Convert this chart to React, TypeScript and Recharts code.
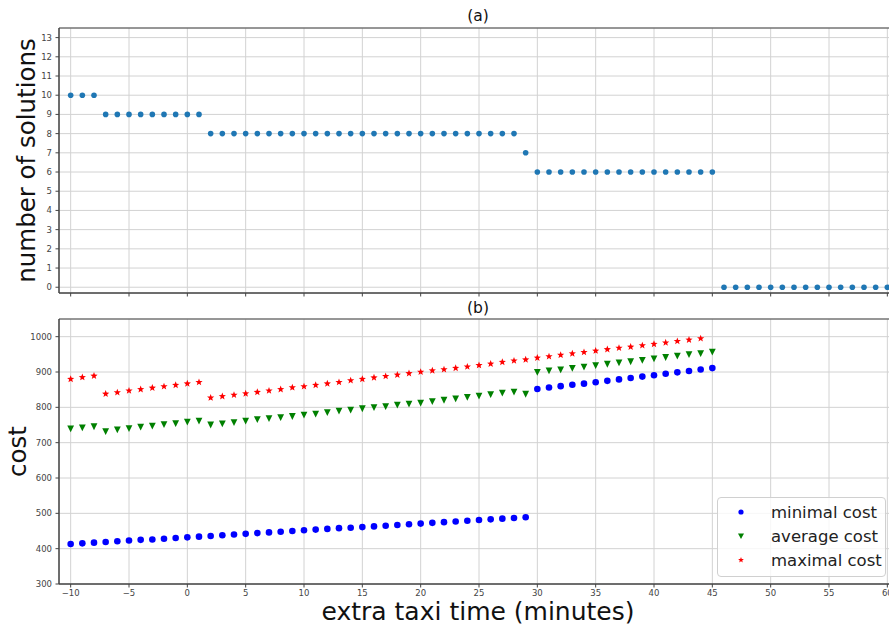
import React from 'react';
import {
  ScatterChart,
  Scatter,
  XAxis,
  YAxis,
  CartesianGrid,
  ReferenceArea,
} from 'recharts';

const FONT = '"DejaVu Sans", sans-serif';

// extra taxi time in minutes, shared by both panels
const minutes = [
  -10, -9, -8, -7, -6, -5, -4, -3, -2, -1, 0, 1, 2, 3, 4, 5, 6, 7, 8, 9,
  10, 11, 12, 13, 14, 15, 16, 17, 18, 19, 20, 21, 22, 23, 24, 25, 26, 27, 28, 29,
  30, 31, 32, 33, 34, 35, 36, 37, 38, 39, 40, 41, 42, 43, 44, 45, 46, 47, 48, 49,
  50, 51, 52, 53, 54, 55, 56, 57, 58, 59, 60,
];

// panel (a)
const solutionCounts = [
  10, 10, 10, 9, 9, 9, 9, 9, 9, 9, 9, 9, 8, 8, 8, 8, 8, 8, 8, 8,
  8, 8, 8, 8, 8, 8, 8, 8, 8, 8, 8, 8, 8, 8, 8, 8, 8, 8, 8, 7,
  6, 6, 6, 6, 6, 6, 6, 6, 6, 6, 6, 6, 6, 6, 6, 6, 0, 0, 0, 0,
  0, 0, 0, 0, 0, 0, 0, 0, 0, 0, 0,
];

// panel (b), minutes -10 .. 45
const minimalCost = [
  413, 415, 417, 419, 421, 423, 425, 426, 428, 430,
  432, 434, 436, 438, 440, 442, 444, 446, 448, 450,
  452, 454, 456, 458, 459, 461, 463, 465, 467, 469,
  471, 473, 475, 477, 479, 481, 483, 485, 487, 489,
  852, 856, 860, 864, 867, 871, 875, 879, 883, 887, 891, 895, 899, 903, 907, 911,
];

const averageCost = [
  739, 742, 745, 731, 736, 740, 744, 747, 751, 754,
  758, 761, 750, 753, 757, 761, 765, 768, 771, 774,
  778, 781, 785, 789, 792, 796, 799, 802, 806, 809,
  812, 816, 820, 824, 828, 832, 836, 840, 843, 837,
  899, 903, 906, 910, 914, 918, 922, 926, 929, 933, 937, 941, 945, 949, 952, 956,
];

// minutes -10 .. 44
const maximalCost = [
  880, 885, 889, 838, 842, 847, 851, 855, 859, 863,
  867, 871, 827, 831, 835, 839, 843, 847, 851, 856,
  859, 863, 867, 871, 876, 880, 884, 888, 892, 896,
  900, 904, 907, 911, 915, 919, 923, 928, 932, 935,
  940, 944, 948, 952, 956, 960, 964, 968, 971, 975, 979, 983, 987, 991, 995,
];

const xTicks = [-10, -5, 0, 5, 10, 15, 20, 25, 30, 35, 40, 45, 50, 55, 60];
const countTicks = [0, 1, 2, 3, 4, 5, 6, 7, 8, 9, 10, 11, 12, 13];
const costTicks = [300, 400, 500, 600, 700, 800, 900, 1000];

const solutionData = minutes.map((m, i) => ({ minute: m, value: solutionCounts[i] }));
const minData = minimalCost.map((v, i) => ({ minute: minutes[i], value: v }));
const avgData = averageCost.map((v, i) => ({ minute: minutes[i], value: v }));
const maxData = maximalCost.map((v, i) => ({ minute: minutes[i], value: v }));

const BLUE = '#0000ff';
const GREEN = '#008000';
const RED = '#ff0000';
const AXIS = '#444';
const GRID = '#d2d2d2';

const fmt = (v: number) => (v < 0 ? `\u2212${Math.abs(v)}` : String(v));
const tickStyle = { fontSize: 8.5, fill: '#444', fontFamily: FONT };

const starPoints = (cx: number, cy: number, outer: number, inner: number) => {
  const pts: string[] = [];
  for (let i = 0; i < 10; i++) {
    const rad = i % 2 === 0 ? outer : inner;
    const a = -Math.PI / 2 + (i * Math.PI) / 5;
    pts.push(`${cx + rad * Math.cos(a)},${cy + rad * Math.sin(a)}`);
  }
  return pts.join(' ');
};

const circle = (color: string, r: number) => (p: any) =>
  <circle cx={p.cx} cy={p.cy} r={r} fill={color} />;

const triangleDown = (color: string, s: number) => (p: any) => (
  <polygon
    points={`${p.cx - s},${p.cy - s} ${p.cx + s},${p.cy - s} ${p.cx},${p.cy + s}`}
    fill={color}
  />
);

const star = (color: string, s: number) => (p: any) =>
  <polygon points={starPoints(p.cx, p.cy, s, s * 0.42)} fill={color} />;

const yLabel = (text: string, baselineX: number) => (props: any) => {
  const vb = props.viewBox;
  const cy = vb.y + vb.height / 2;
  return (
    <text
      x={baselineX}
      y={cy}
      transform={`rotate(-90 ${baselineX} ${cy})`}
      textAnchor="middle"
      fontSize={24.5}
      fontFamily={FONT}
      fill="#111"
    >
      {text}
    </text>
  );
};

const xLabel = (props: any) => {
  const vb = props.viewBox;
  return (
    <text
      x={478}
      y={vb.y + vb.height + 16}
      textAnchor="middle"
      fontSize={25}
      fontFamily={FONT}
      fill="#111"
    >
      extra taxi time (minutes)
    </text>
  );
};

const legendItems = [
  { name: 'minimal cost', marker: <circle cx={23} cy={11} r={2.6} fill={BLUE} /> },
  {
    name: 'average cost',
    marker: <polygon points="20,8.5 26,8.5 23,14" fill={GREEN} />,
  },
  { name: 'maximal cost', marker: <polygon points={starPoints(23, 11, 3, 1.3)} fill={RED} /> },
];

const titleStyle: React.CSSProperties = {
  position: 'absolute',
  width: 120,
  left: 418,
  textAlign: 'center',
  fontFamily: FONT,
  fontSize: 15.5,
  color: '#111',
};

export default function App() {
  return (
    <div
      style={{
        position: 'fixed',
        left: 0,
        top: 0,
        width: 889,
        height: 628,
        overflow: 'hidden',
        background: '#fff',
      }}
    >
      <div style={{ ...titleStyle, top: 7 }}>(a)</div>
      <div style={{ position: 'absolute', left: 0, top: 0 }}>
        <ScatterChart width={900} height={300} margin={{ top: 28, right: 1, bottom: 0, left: 0 }}>
          <CartesianGrid stroke={GRID} strokeWidth={1} />
          <XAxis
            dataKey="minute"
            type="number"
            domain={[-11, 61]}
            ticks={xTicks}
            interval={0}
            height={7}
            tickSize={3.5}
            tick={() => <g />}
            stroke={AXIS}
          />
          <YAxis
            dataKey="value"
            type="number"
            domain={[-0.3, 13.5]}
            ticks={countTicks}
            interval={0}
            width={59}
            tickSize={3.5}
            tickMargin={3.5}
            tick={tickStyle}
            stroke={AXIS}
            label={yLabel('number of solutions', 34.7)}
          />
          <ReferenceArea x1={-11} x2={61} y1={-0.3} y2={13.5} fill="none" stroke={AXIS} />
          <Scatter
            data={solutionData}
            fill="#1f77b4"
            shape={circle('#1f77b4', 2.8)}
            isAnimationActive={false}
          />
        </ScatterChart>
      </div>

      <div style={{ ...titleStyle, top: 299 }}>(b)</div>
      <div style={{ position: 'absolute', left: 0, top: 300 }}>
        <ScatterChart width={900} height={328} margin={{ top: 19, right: 1, bottom: 24, left: 0 }}>
          <CartesianGrid stroke={GRID} strokeWidth={1} />
          <XAxis
            dataKey="minute"
            type="number"
            domain={[-11, 61]}
            ticks={xTicks}
            interval={0}
            height={20}
            tickSize={3.5}
            tickMargin={2}
            tick={tickStyle}
            tickFormatter={fmt}
            stroke={AXIS}
            label={xLabel}
          />
          <YAxis
            dataKey="value"
            type="number"
            domain={[300, 1050]}
            ticks={costTicks}
            interval={0}
            width={59}
            tickSize={3.5}
            tickMargin={3.5}
            tick={tickStyle}
            stroke={AXIS}
            label={yLabel('cost', 26)}
          />
          <ReferenceArea x1={-11} x2={61} y1={300} y2={1050} fill="none" stroke={AXIS} />
          <Scatter
            name="minimal cost"
            data={minData}
            fill={BLUE}
            shape={circle(BLUE, 3.3)}
            isAnimationActive={false}
          />
          <Scatter
            name="average cost"
            data={avgData}
            fill={GREEN}
            shape={triangleDown(GREEN, 3.4)}
            isAnimationActive={false}
          />
          <Scatter
            name="maximal cost"
            data={maxData}
            fill={RED}
            shape={star(RED, 3.8)}
            isAnimationActive={false}
          />
        </ScatterChart>
      </div>

      <div
        style={{
          position: 'absolute',
          left: 717,
          top: 497,
          width: 167,
          height: 78,
          border: '1px solid #d0d0d0',
          borderRadius: 4,
          background: 'rgba(255,255,255,0.8)',
          fontFamily: FONT,
          fontSize: 16.5,
          color: '#222',
        }}
      >
        {legendItems.map((item, i) => (
          <div
            key={item.name}
            style={{
              position: 'absolute',
              left: 0,
              top: 3 + i * 24,
              height: 22,
              display: 'flex',
              alignItems: 'center',
              whiteSpace: 'nowrap',
            }}
          >
            <svg width={46} height={22}>
              {item.marker}
            </svg>
            <span style={{ marginLeft: 7 }}>{item.name}</span>
          </div>
        ))}
      </div>
    </div>
  );
}
